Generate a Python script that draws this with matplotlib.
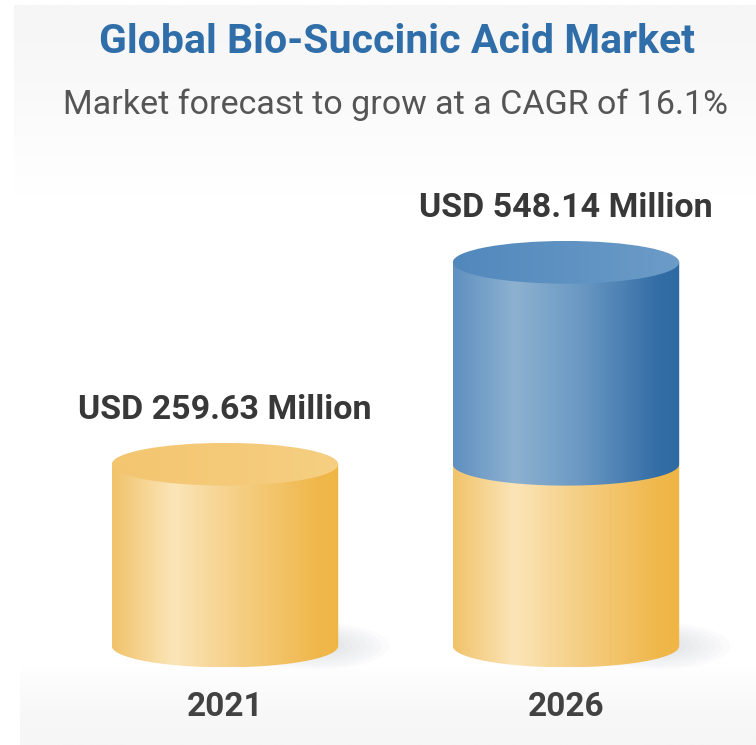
import numpy as np
import matplotlib
matplotlib.use("Agg")
import matplotlib.pyplot as plt
from matplotlib.colors import LinearSegmentedColormap
from matplotlib.patches import Ellipse, PathPatch
from matplotlib.path import Path

# market size, USD million
years = ["2021", "2026"]
market_size = [259.63, 548.14]
value_labels = ["USD 259.63 Million", "USD 548.14 Million"]
title = "Global Bio-Succinic Acid Market"
subtitle = "Market forecast to grow at a CAGR of 16.1%"

plt.rcParams["font.family"] = ["Roboto", "DejaVu Sans"]

# side shading: light streak left of centre, darker towards the right edge
yellow_side = LinearSegmentedColormap.from_list(
    "yellow_side", [(0, "#f1c36a"), (0.27, "#fbe5b8"), (0.55, "#f5cf86"), (0.9, "#f0b84c"), (1, "#efb645")])
yellow_top = LinearSegmentedColormap.from_list("yellow_top", ["#f3c56f", "#f6cf82"])
blue_side = LinearSegmentedColormap.from_list(
    "blue_side", [(0, "#5f90c0"), (0.27, "#8db1d0"), (0.55, "#6c9ac4"), (0.9, "#346ea6"), (1, "#2f6aa2")])
blue_top = LinearSegmentedColormap.from_list("blue_top", ["#5188bc", "#6c9cc8"])
band = LinearSegmentedColormap.from_list("band", ["#ffffff", "#f6f6f6"])

fig = plt.figure(figsize=(7.56, 7.45), dpi=100)
fig.patch.set_facecolor("white")

# faint grey bands behind the header and the year labels
bg = fig.add_axes([0, 0, 1, 1], zorder=-5)
bg.set_xlim(0, 1)
bg.set_ylim(0, 1)
bg.axis("off")
vgrad = np.linspace(0, 1, 64)[:, None]
bg.imshow(vgrad, cmap=band, extent=(14 / 756, 1, 1 - 195 / 745, 1 - 5 / 745),
          origin="lower", aspect="auto", vmin=0, vmax=0.9)
bg.imshow(vgrad[::-1], cmap=band, extent=(20 / 756, 1, 0, 1 - 662 / 745),
          origin="lower", aspect="auto", vmin=0, vmax=0.8)

ax = fig.add_axes([0.0721, 0.0765, 0.9021, 0.7141])
ax.set_xlim(-0.5, 1.5)
ax.set_ylim(-60, 700)
ax.axis("off")
ax.patch.set_alpha(0)

rx = 0.332   # half width of a cylinder, x units
ry = 30.5    # half depth of the ellipses, y units
grad = np.linspace(0, 1, 256)[None, :]


def body_path(x, y0, y1):
    t = np.linspace(np.pi, 2 * np.pi, 60)
    pts = [(x - rx, y1), (x - rx, y0)]
    pts += list(zip(x + rx * np.cos(t), y0 + ry * np.sin(t)))
    pts += [(x + rx, y1), (x - rx, y1)]
    return Path(pts, closed=True)


def shade(patch, cmap, y_lo, y_hi, x, z):
    patch.set_transform(ax.transData)
    im = ax.imshow(grad, cmap=cmap, extent=(x - rx, x + rx, y_lo, y_hi),
                   aspect="auto", interpolation="bilinear", zorder=z)
    im.set_clip_path(patch)


def cylinder_segment(x, y0, y1, side, top, z, with_top):
    shade(PathPatch(body_path(x, y0, y1)), side, y0 - ry, y1, x, z)
    if with_top:
        shade(Ellipse((x, y1), 2 * rx, 2 * ry), top, y1 - ry, y1 + ry, x, z + 0.5)


base = market_size[0]
for i, val in enumerate(market_size):
    # soft floor shadow on the right of the base
    for k in range(8):
        s = 1 - k * 0.1
        ax.add_patch(Ellipse((i + rx * 0.8, 0), rx * 1.3 * s, ry * 2.2 * s,
                             facecolor="#9aa3b5", edgecolor="none", alpha=0.035, zorder=1))

    yellow_end = min(val, base)
    cylinder_segment(i, 0, yellow_end, yellow_side, yellow_top, 2, val <= base)
    if val > base:
        cylinder_segment(i, base, val, blue_side, blue_top, 3, True)

    ax.annotate(value_labels[i], (i, val), xytext=(0, 39), textcoords="offset points",
                ha="center", va="center", fontsize=24.5, fontweight="bold", color="#383838")
    ax.annotate(years[i], (i, 0), xytext=(0, -44), textcoords="offset points",
                ha="center", va="center", fontsize=24, fontweight="bold", color="#424242")

fig.text(0.525, 1 - 42 / 745, title, ha="center", va="center",
         fontsize=29.5, fontweight="bold", color="#2f6ea8")
fig.text(0.523, 1 - 105 / 745, subtitle, ha="center", va="center",
         fontsize=24.5, color="#555555")

fig.savefig("out.png", dpi=100, facecolor=fig.get_facecolor())
